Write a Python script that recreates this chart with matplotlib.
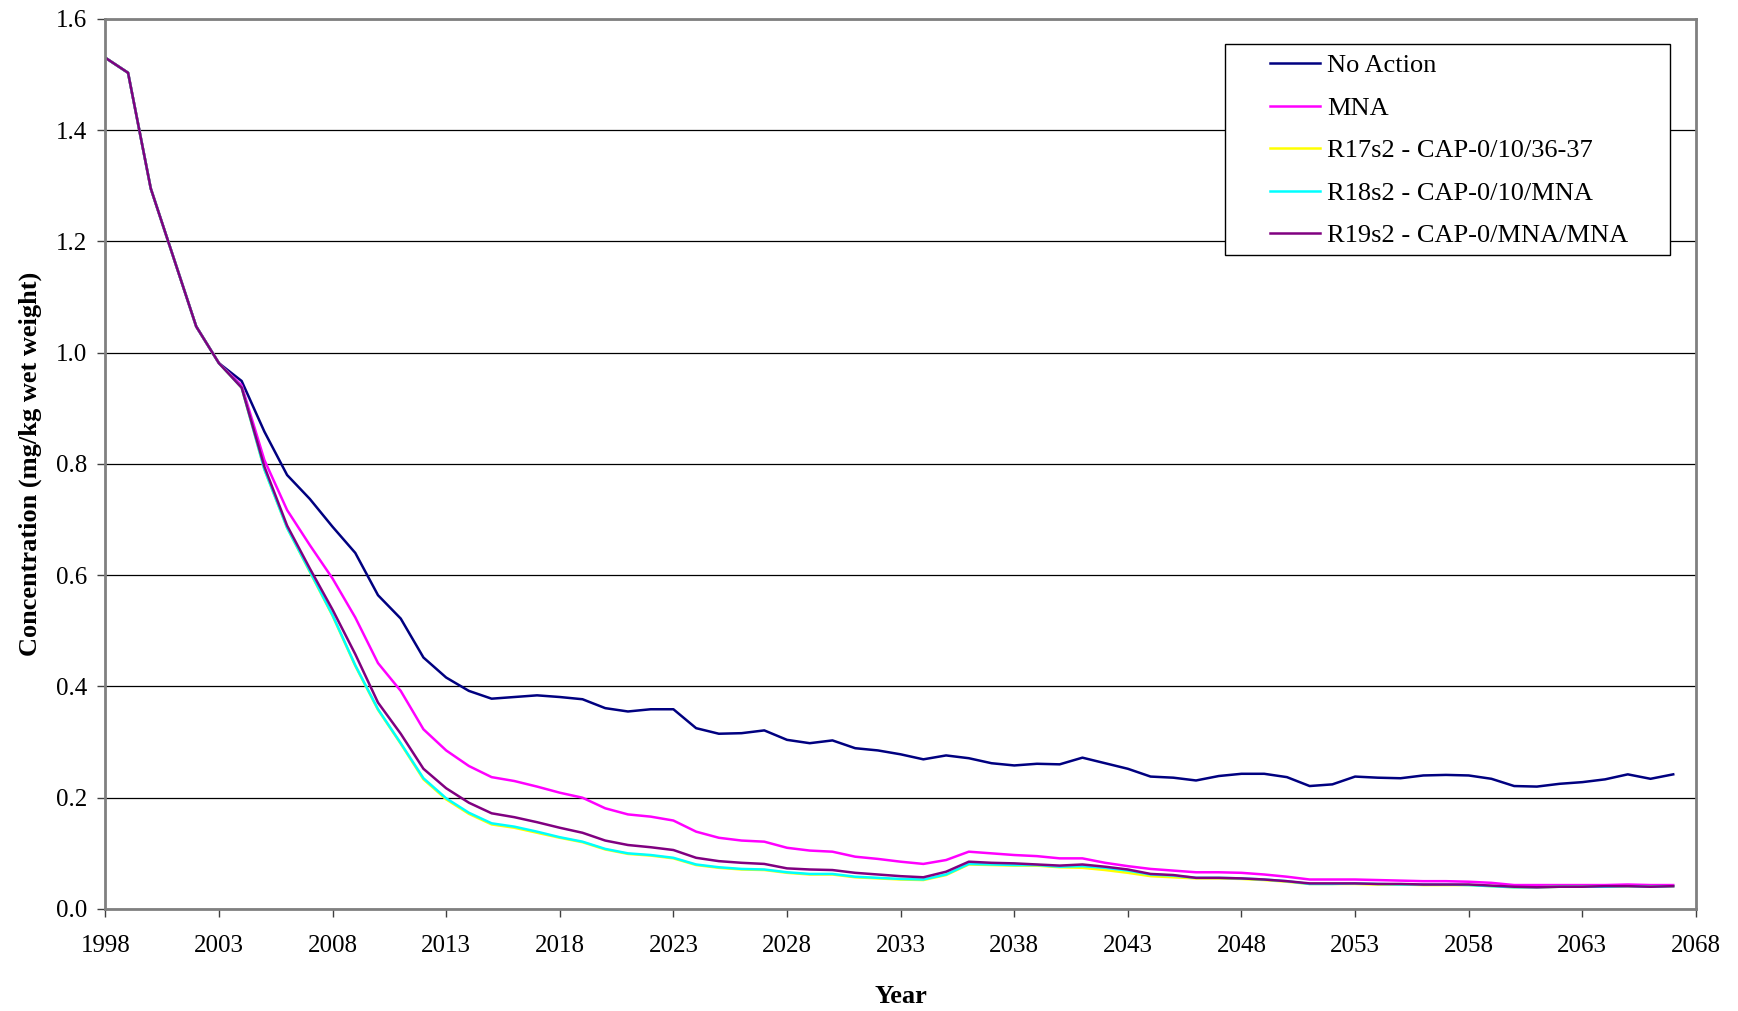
import matplotlib
matplotlib.use('Agg')
import matplotlib.pyplot as plt
from matplotlib.patches import Rectangle

plt.rcParams['font.family'] = ['Liberation Serif', 'DejaVu Serif']

# yearly values 1998..2067, rows of ten years
years = list(range(1998, 2068))

no_action = [1.530, 1.503, 1.295, 1.171, 1.047, 0.981, 0.949, 0.858, 0.780, 0.737,
             0.687, 0.640, 0.564, 0.522, 0.452, 0.416, 0.392, 0.378, 0.381, 0.384,
             0.381, 0.377, 0.361, 0.355, 0.359, 0.359, 0.325, 0.315, 0.316, 0.321,
             0.304, 0.298, 0.303, 0.289, 0.285, 0.278, 0.269, 0.276, 0.271, 0.262,
             0.258, 0.261, 0.260, 0.272, 0.262, 0.252, 0.238, 0.236, 0.231, 0.239,
             0.243, 0.243, 0.237, 0.221, 0.224, 0.238, 0.236, 0.235, 0.240, 0.241,
             0.240, 0.234, 0.221, 0.220, 0.225, 0.228, 0.233, 0.242, 0.234, 0.242]

mna = [1.530, 1.503, 1.295, 1.171, 1.047, 0.981, 0.941, 0.807, 0.717, 0.654,
       0.594, 0.524, 0.442, 0.392, 0.323, 0.285, 0.257, 0.237, 0.230, 0.220,
       0.209, 0.200, 0.181, 0.170, 0.166, 0.159, 0.139, 0.128, 0.123, 0.121,
       0.110, 0.105, 0.103, 0.094, 0.090, 0.085, 0.081, 0.088, 0.103, 0.100,
       0.097, 0.095, 0.091, 0.091, 0.083, 0.077, 0.072, 0.069, 0.066, 0.066,
       0.065, 0.062, 0.058, 0.053, 0.053, 0.053, 0.052, 0.051, 0.050, 0.050,
       0.049, 0.047, 0.043, 0.043, 0.043, 0.043, 0.043, 0.044, 0.043, 0.043]

r17s2 = [1.530, 1.503, 1.295, 1.171, 1.047, 0.981, 0.937, 0.790, 0.685, 0.606,
         0.527, 0.437, 0.358, 0.297, 0.233, 0.197, 0.171, 0.152, 0.146, 0.137,
         0.128, 0.120, 0.107, 0.099, 0.096, 0.091, 0.079, 0.074, 0.071, 0.070,
         0.065, 0.062, 0.062, 0.057, 0.055, 0.053, 0.052, 0.061, 0.080, 0.079,
         0.078, 0.078, 0.075, 0.074, 0.070, 0.065, 0.059, 0.057, 0.055, 0.055,
         0.054, 0.052, 0.049, 0.045, 0.045, 0.045, 0.044, 0.044, 0.043, 0.043,
         0.043, 0.041, 0.039, 0.039, 0.040, 0.040, 0.040, 0.041, 0.040, 0.041]

r18s2 = [1.530, 1.503, 1.295, 1.171, 1.047, 0.981, 0.937, 0.790, 0.685, 0.607,
         0.528, 0.438, 0.359, 0.298, 0.235, 0.199, 0.173, 0.154, 0.148, 0.139,
         0.129, 0.121, 0.108, 0.100, 0.097, 0.092, 0.080, 0.075, 0.072, 0.071,
         0.066, 0.063, 0.063, 0.058, 0.056, 0.054, 0.053, 0.062, 0.081, 0.080,
         0.079, 0.079, 0.076, 0.077, 0.074, 0.069, 0.062, 0.060, 0.056, 0.056,
         0.055, 0.053, 0.050, 0.045, 0.045, 0.046, 0.045, 0.044, 0.044, 0.044,
         0.043, 0.041, 0.039, 0.039, 0.040, 0.040, 0.040, 0.041, 0.040, 0.041]

r19s2 = [1.530, 1.503, 1.295, 1.171, 1.047, 0.981, 0.937, 0.795, 0.689, 0.612,
         0.538, 0.458, 0.371, 0.315, 0.252, 0.217, 0.191, 0.172, 0.165, 0.156,
         0.146, 0.137, 0.123, 0.115, 0.111, 0.106, 0.092, 0.086, 0.083, 0.081,
         0.073, 0.071, 0.070, 0.065, 0.062, 0.059, 0.057, 0.067, 0.085, 0.083,
         0.082, 0.080, 0.078, 0.080, 0.076, 0.071, 0.063, 0.061, 0.056, 0.056,
         0.055, 0.053, 0.050, 0.046, 0.046, 0.046, 0.045, 0.045, 0.044, 0.044,
         0.044, 0.042, 0.040, 0.039, 0.040, 0.040, 0.041, 0.041, 0.040, 0.041]

series = [
    ('No Action', no_action, '#000080'),
    ('MNA', mna, '#FF00FF'),
    ('R17s2 - CAP-0/10/36-37', r17s2, '#FFFF00'),
    ('R18s2 - CAP-0/10/MNA', r18s2, '#00FFFF'),
    ('R19s2 - CAP-0/MNA/MNA', r19s2, '#800080'),
]

fig = plt.figure(figsize=(17.38, 10.11), dpi=100)
ax = fig.add_axes([0.0606, 0.1009, 0.9152, 0.8805])

for label, vals, color in series:
    ax.plot(years, vals, color=color, lw=1.8, label=label)

ax.set_xlim(1998, 2068)
ax.set_ylim(0, 1.6)
ax.set_xticks(range(1998, 2069, 5))
ax.set_yticks([i * 0.2 for i in range(9)])
ax.set_yticklabels(['%.1f' % (i * 0.2) for i in range(9)])
ax.yaxis.grid(True, color='black', lw=0.9)
ax.set_axisbelow(True)
for s in ax.spines.values():
    s.set_color('#808080')
    s.set_linewidth(2)
ax.tick_params(axis='both', direction='out', length=6, width=1, color='#404040',
               labelsize=18)
ax.tick_params(axis='x', pad=13)
ax.tick_params(axis='y', pad=7)

ax.set_xlabel('Year', fontsize=19, fontweight='bold', labelpad=20)
ax.set_ylabel('Concentration (mg/kg wet weight)', fontsize=19, fontweight='bold',
              labelpad=10)

# legend frame is wider than the entries, so draw it separately
fig.add_artist(Rectangle((1225 / 1738, 1 - 255 / 1011), 445 / 1738, 211 / 1011,
                         transform=fig.transFigure, facecolor='white',
                         edgecolor='black', lw=1, zorder=2))
handles, labels = ax.get_legend_handles_labels()
leg = fig.legend(handles, labels, loc='upper left',
                 bbox_to_anchor=(1270 / 1738, 1 - 54 / 1011),
                 frameon=False, fontsize=19,
                 handlelength=1.9, handletextpad=0.25, labelspacing=0.72,
                 borderpad=0, borderaxespad=0)
leg.set_zorder(3)

fig.savefig('out.png', dpi=100)
